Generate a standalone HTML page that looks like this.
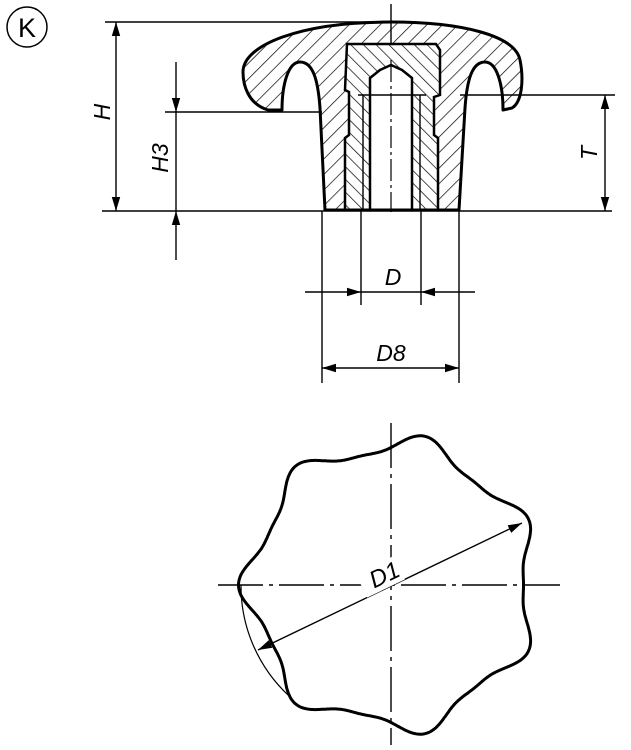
<!DOCTYPE html>
<html><head><meta charset="utf-8"><style>body{margin:0;background:#fff}svg{display:block}text{font-family:"Liberation Sans",sans-serif;font-style:italic;fill:#000}</style></head>
<body>
<svg width="631" height="750" viewBox="0 0 631 750" xmlns="http://www.w3.org/2000/svg">
<defs>
<pattern id="h1" patternUnits="userSpaceOnUse" width="11" height="11" patternTransform="rotate(45)"><line x1="0" y1="0" x2="0" y2="11" stroke="#000" stroke-width="1.4"/></pattern>
<pattern id="h2" patternUnits="userSpaceOnUse" width="9" height="9" patternTransform="rotate(-45)"><line x1="0" y1="0" x2="0" y2="9" stroke="#000" stroke-width="1.4"/></pattern>
<marker id="a" viewBox="0 0 10 10" refX="10" refY="5" markerWidth="14" markerHeight="14" markerUnits="userSpaceOnUse" orient="auto-start-reverse"><path d="M0,2 L10,5 L0,8z" fill="#000"/></marker>
</defs>
<circle cx="27" cy="27" r="20" fill="none" stroke="#000" stroke-width="1.5"/>
<text x="27" y="37" font-size="27" text-anchor="middle" style="font-style:normal">K</text>

<g stroke="#000" stroke-width="1.4" fill="none">
<line x1="105" y1="22" x2="391" y2="22"/>
<line x1="165" y1="112" x2="322" y2="112"/>
<line x1="102" y1="211" x2="612" y2="211"/>
<line x1="460" y1="95" x2="615" y2="95"/>
<line x1="322" y1="211" x2="322" y2="383"/>
<line x1="459" y1="211" x2="459" y2="383"/>
<line x1="361" y1="211" x2="361" y2="305"/>
<line x1="421" y1="211" x2="421" y2="305"/>
<line x1="391" y1="4" x2="391" y2="212"/>
</g>
<g stroke="#000" stroke-width="1.4">
<line x1="116" y1="22" x2="116" y2="211" marker-start="url(#a)" marker-end="url(#a)"/>
<line x1="176" y1="62" x2="176" y2="112" marker-end="url(#a)"/>
<line x1="176" y1="260" x2="176" y2="211" marker-end="url(#a)"/>
<line x1="176" y1="112" x2="176" y2="211"/>
<line x1="605" y1="95" x2="605" y2="211" marker-start="url(#a)" marker-end="url(#a)"/>
<line x1="305" y1="292" x2="361" y2="292" marker-end="url(#a)"/>
<line x1="475" y1="292" x2="421" y2="292" marker-end="url(#a)"/>
<line x1="361" y1="292" x2="421" y2="292"/>
<line x1="322" y1="368" x2="459" y2="368" marker-start="url(#a)" marker-end="url(#a)"/>
</g>
<text transform="translate(110,112) rotate(-90)" font-size="23" text-anchor="middle">H</text>
<text transform="translate(168,158) rotate(-90)" font-size="23" text-anchor="middle">H3</text>
<text transform="translate(597,153) rotate(-90)" font-size="23" text-anchor="middle">T</text>
<text x="393" y="285" font-size="23" text-anchor="middle">D</text>
<text x="391" y="361" font-size="23" text-anchor="middle">D8</text>

<path d="M391,22 C460,22 515,35 520,60 C524,80 522,102 512,108 L503,110 C503,85 497,62 485,62 C472,62 467,80 465,108 L459,210 L325,210 L320,108 C318,80 313,62 300,62 C288,62 282,85 282,110 L268,110 C248,104 243,85 243,72 C243,45 300,22 391,22 Z" fill="url(#h1)" stroke="#000" stroke-width="3" stroke-linejoin="round"/>
<path d="M347,44 L436,44 L440,50 L440,95 L434,97 L434,135 L438,138 L438,210 L345,210 L345,138 L349,135 L349,92 L345,90 Z" fill="#fff"/>
<path d="M347,44 L436,44 L440,50 L440,95 L434,97 L434,135 L438,138 L438,210 L345,210 L345,138 L349,135 L349,92 L345,90 Z" fill="url(#h2)" stroke="#000" stroke-width="2.5"/>
<path d="M370,210 L370,78 L380,70 L391,65 L402,70 L412,78 L412,210 Z" fill="#fff" stroke="#000" stroke-width="2.5"/>
<line x1="363" y1="95" x2="363" y2="210" stroke="#000" stroke-width="1.4"/>
<line x1="420" y1="95" x2="420" y2="210" stroke="#000" stroke-width="1.4"/>
<line x1="358" y1="95" x2="426" y2="95" stroke="#000" stroke-width="1.4"/>
<line x1="391" y1="60" x2="391" y2="212" stroke="#000" stroke-width="1.2" stroke-dasharray="22,4,3,4"/>
<line x1="325" y1="210" x2="459" y2="210" stroke="#000" stroke-width="3"/>

<g stroke="#000" stroke-width="1.4">
<line x1="218" y1="585" x2="560" y2="585" stroke-dasharray="45,6,4,6"/>
<line x1="391" y1="423" x2="391" y2="745" stroke-dasharray="45,6,4,6"/>
</g>
<path id="star" fill="none" stroke="#000" stroke-width="3"/>
<path d="M241,585 A150,150 0 0 0 288,695" fill="none" stroke="#000" stroke-width="1.2"/>
<line x1="258" y1="650" x2="522" y2="523" stroke="#000" stroke-width="1.4" marker-start="url(#a)" marker-end="url(#a)"/>
<rect x="364" y="560" width="42" height="26" fill="#fff" transform="rotate(-25.7 391 585)"/>
<text transform="translate(388,582) rotate(-25.7)" font-size="24" text-anchor="middle">D1</text>
<script>
var cx=391,cy=585,d="";
for(var i=0;i<=720;i++){var t=i/720*2*Math.PI;var p=7*(t-Math.PI);var r=140+10*Math.cos(p)+2.5*Math.cos(2*p);var x=cx+r*Math.cos(t),y=cy+r*Math.sin(t);d+=(i?"L":"M")+x.toFixed(1)+","+y.toFixed(1);}
document.getElementById("star").setAttribute("d",d+"Z");
</script>
</svg>
</body></html>
